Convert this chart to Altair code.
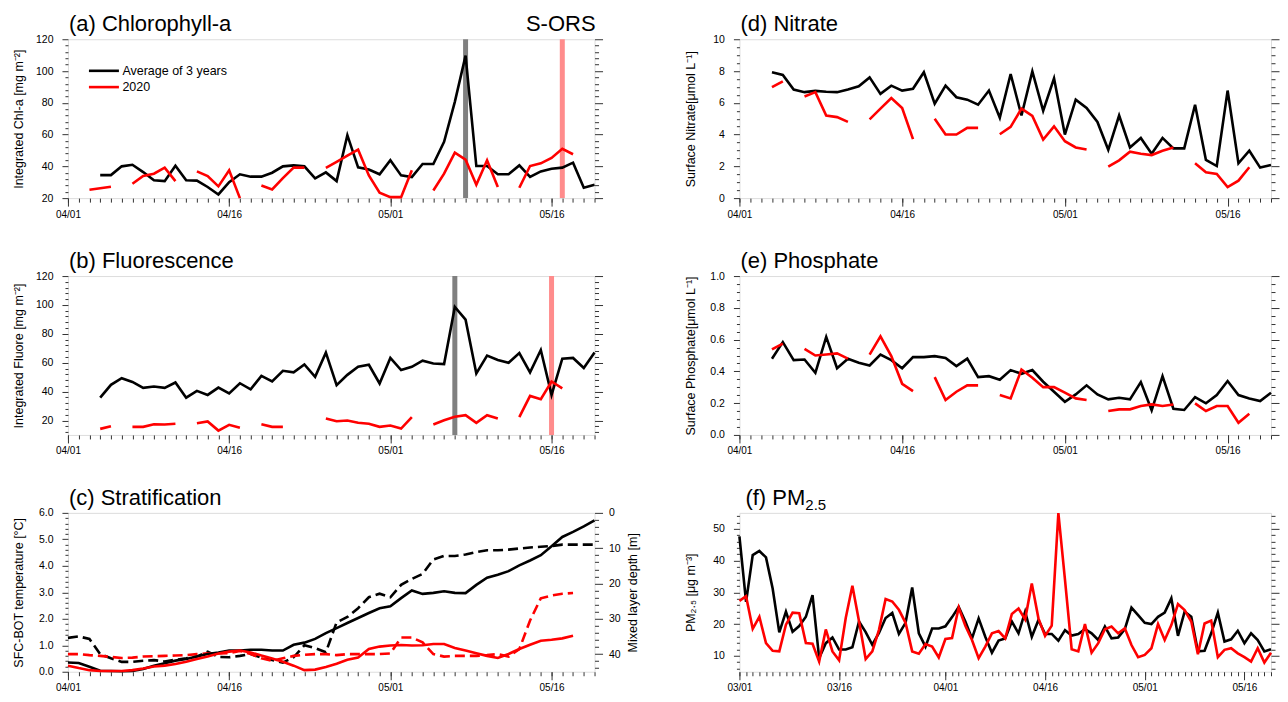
import altair as alt
import pandas as pd

FONT = "Liberation Sans"
YEAR = 2020

# ---------------- data ----------------
# (a) Integrated Chl-a [mg m-2]
chl_avg_start = "04-04"
chl_avg = [34.5, 34.5, 40, 41, 36.4, 31.2, 30.7, 40.4, 31.2, 31, 27, 22.3, 30, 35, 33.5, 33.5,
           36, 40, 40.6, 40, 32.4, 36.2, 30.7, 59.6, 39.4, 38, 35, 43.8, 34.3, 33.3, 41.5, 41.5,
           55.4, 80.6, 109.7, 40.2, 40.2, 35, 35, 40.6, 33.3, 36.8, 38.5, 39.2, 42.3, 26.5, 28.4]
chl_2020_start = "04-03"
chl_2020 = [25.3, 26.2, 27.2, None, 29, 33.9, 35.4, 39.2, 30.7, None, 36.8, 33.9, 27.4, 37.5, 20,
            None, 28, 25.5, 32.6, 39.2, 39.2, None, 39, 42.8, 46.7, 50.5, 34.3, 23.4, 20.6, 20.6,
            37.5, None, 24.8, 35.4, 48.6, 44.2, 28.4, 43.8, 27, None, 26.5, 40.2, 41.9, 45.3, 51, 47.6]
chl_events = ["05-08", "05-17"]

# (b) Integrated Fluore [mg m-2]
flu_avg_start = "04-04"
flu_avg = [35.8, 44.7, 49.3, 46.7, 42.6, 43.5, 42.6, 46.3, 35.8, 40.5, 37.7, 42.8, 38.8, 45.8,
           41.6, 50.9, 47, 54.4, 53.3, 58.8, 50.2, 67, 44.4, 51.6, 57.2, 58.6, 45.6, 63.3, 54.9,
           57.2, 61.4, 59.5, 59.1, 98.6, 89.8, 52.6, 64.9, 61.9, 60, 66.7, 53.3, 68.8, 37.7, 62.8,
           63.3, 56.3, 67]
flu_2020_start = "04-04"
flu_2020 = [14.2, 16, None, 15.6, 15.6, 17.4, 17.2, 17.7, None, 18.1, 19.3, 13, 17, 14.9, None,
            17.4, 15.6, 15.6, None, None, None, 21.4, 19.5, 20, 18.4, 17.7, 15.6, 16.5, 14.4, 22.3,
            None, 17.2, 20.2, 22.6, 23.7, 18.4, 23.7, 21.4, None, 22.3, 37, 34.7, 47, 42.3]
flu_events = ["05-07", "05-16"]

# (c) Stratification: SFC-BOT temperature [degC] and mixed layer depth [m]
strat_start = "04-01"
dt_avg = [0.35, 0.33, 0.19, 0.04, 0.03, 0.02, 0.03, 0.1, 0.23, 0.32, 0.42, 0.48, 0.58, 0.67, 0.73,
          0.8, 0.8, 0.83, 0.83, 0.8, 0.8, 1.02, 1.1, 1.24, 1.46, 1.65, 1.84, 2.03, 2.22, 2.4, 2.47,
          2.78, 3.07, 2.94, 2.98, 3.04, 2.98, 2.97, 3.28, 3.55, 3.66, 3.8, 4.02, 4.2, 4.4, 4.74,
          5.09, 5.28, 5.49, 5.72]
dt_2020 = [0.23, 0.14, 0.06, 0.03, 0.03, 0.03, 0.06, 0.12, 0.2, 0.23, 0.29, 0.38, 0.48, 0.58, 0.69,
           0.76, 0.8, 0.73, 0.61, 0.5, 0.38, 0.23, 0.06, 0.08, 0.18, 0.3, 0.45, 0.54, 0.86, 0.95,
           0.99, 1.01, 0.99, 1.0, 1.05, 1.05, 0.9, 0.8, 0.7, 0.6, 0.52, 0.67, 0.86, 1.02, 1.17,
           1.21, 1.26, 1.36]
mld_avg = [35.4, 35, 35.7, 40, 41.2, 42.2, 42.2, 41.9, 41.7, 42.1, 41.6, 41.2, 40.7, 39.3, 40.8,
           40.9, 40.5, 40, 41, 41.7, 42.4, 40.9, 37.5, 38.3, 39.5, 31, 29.5, 27, 23.9, 22.9, 23.9,
           20.4, 18.7, 17.3, 13.2, 12.2, 12.2, 11.8, 11.1, 10.6, 10.6, 10.4, 10.1, 9.8, 9.6, 9.4,
           9, 9, 9, 9]
mld_2020 = [40, 40, 40.3, 40.5, 40.8, 41.1, 41, 40.7, 40.6, 40.5, 40.4, 40.3, 40, 39.8, 39.8,
            39.7, 39.1, 40, 41.2, 41.9, 41.2, 40.5, 40.2, 40, 40, 40.3, 40, 40, 40, 40, 39.8,
            35.3, 35.3, 36.7, 40, 40.7, 40.5, 40.5, 40.5, 40.3, 40, 40.7, 38.6, 30.5, 24.2, 23.4,
            22.9, 22.7]

# (d) Surface nitrate [umol L-1]
no3_avg_start = "04-04"
no3_avg = [7.92, 7.75, 6.83, 6.67, 6.75, 6.7, 6.67, 6.83, 7.04, 7.6, 6.56, 7.08, 6.77, 6.88, 7.92,
           5.94, 7.08, 6.35, 6.2, 5.88, 6.77, 5.06, 7.81, 5.2, 7.98, 5.5, 7.54, 4.0, 6.2, 5.67,
           4.79, 3.04, 5.2, 3.19, 3.79, 2.79, 3.79, 3.13, 3.13, 5.88, 2.4, 2.02, 6.77, 2.19, 2.98,
           1.92, 2.08]
no3_2020_start = "04-04"
no3_2020 = [6.98, 7.35, None, 6.4, 6.67, 5.2, 5.1, 4.8, None, 4.96, 5.63, 6.3, 5.67, 3.71, None,
            5.0, 4.0, 4.0, 4.42, 4.42, None, 4.02, 4.48, 5.63, 5.17, 3.69, 4.52, 3.58, 3.19, 3.06,
            None, 1.98, 2.38, 2.92, 2.79, 2.71, 2.98, 3.19, None, 2.19, 1.63, 1.52, 0.69, 1.1, 1.94]

# (e) Surface phosphate [umol L-1]
po4_avg_start = "04-04"
po4_avg = [0.48, 0.584, 0.471, 0.475, 0.391, 0.617, 0.42, 0.48, 0.454, 0.437, 0.506, 0.471, 0.42,
           0.49, 0.49, 0.496, 0.485, 0.433, 0.48, 0.364, 0.37, 0.347, 0.408, 0.385, 0.408, 0.335,
           0.272, 0.209, 0.255, 0.312, 0.255, 0.224, 0.234, 0.224, 0.333, 0.155, 0.37, 0.165,
           0.157, 0.238, 0.199, 0.251, 0.339, 0.251, 0.23, 0.213, 0.266]
po4_2020_start = "04-04"
po4_2020 = [0.538, 0.575, None, 0.542, 0.5, 0.506, 0.513, 0.48, None, 0.506, 0.621, 0.496, 0.322,
            0.276, None, 0.364, 0.22, 0.272, 0.312, 0.312, None, 0.251, 0.23, 0.412, 0.36, 0.301,
            0.301, 0.266, 0.23, 0.22, None, 0.151, 0.161, 0.161, 0.182, 0.192, 0.182, 0.192, None,
            0.199, 0.151, 0.182, 0.182, 0.077, 0.134]

# (f) PM2.5 [ug m-3], daily from 03/01
pm_start = "03-01"
pm_avg = [47.6, 27, 41.7, 43, 41, 31.2, 17.4, 23.9, 17.6, 19.4, 22.3, 29.1, 9.3, 14, 15.8, 12, 12,
          12.7, 20.8, 17.5, 13.5, 17.2, 21.9, 23.5, 16.9, 20.4, 31.5, 17.1, 12.9, 18.6, 18.6, 19.3,
          22.2, 25.4, 20.8, 15.5, 21.8, 16, 11, 14.8, 15.5, 20.8, 17.1, 23.9, 16, 21.3, 16.9, 16.9,
          14.8, 18.1, 16.4, 16.9, 18.4, 17.1, 15, 19.2, 15.5, 15.8, 18.4, 25.2, 22.8, 20.4, 20,
          22.3, 23.6, 28.1, 16.3, 23.9, 22.3, 11.4, 11.6, 17.1, 23.6, 14.5, 15.2, 17.9, 14, 17.1,
          15, 11.4, 12.1]
pm_2020 = [27.3, 28.8, 18.5, 22.3, 14, 11.6, 11.4, 19.8, 23.6, 23.4, 14, 13.8, 8.2, 18.3, 11.4,
           8.6, 21.9, 32.1, 20.9, 9, 11.4, 18.2, 27.9, 27.1, 24.5, 20.4, 11.4, 10.7, 13.7, 12.9,
           9.5, 15.3, 15.6, 25.2, 19.5, 15, 9.3, 12.9, 17.1, 17.8, 15.5, 23.2, 24.9, 21.5, 32.8,
           21.8, 16.3, 19.5, 54.9, 33.8, 12.1, 11.4, 20, 11, 14, 18.4, 19.2, 17.1, 18.7, 13.4, 9.6,
           10.3, 12.4, 20, 15, 19.7, 26.3, 24.4, 20.8, 10.5, 20.2, 21.1, 9.6, 11.9, 12.4, 10.8,
           9.6, 8.2, 12.4, 7.9, 11]

legend_labels = ["Average of 3 years", "2020"]

# tick definitions
spring_domain = ["04-01", "05-20"]
spring_major = ["04-01", "04-16", "05-01", "05-16"]
pm_domain = ["03-01", "05-20"]
pm_major = ["03-01", "03-16", "04-01", "04-16", "05-01", "05-16"]

BLACK = "#000000"
RED = "#ff0000"
LW = 2.6
W_L, W_R, H = 527, 532, 159


# ---------------- helpers ----------------
def ts(md):
    return pd.Timestamp(f"{YEAR}-{md}")


def iso(t):
    return t.strftime("%Y-%m-%dT00:00:00Z")


def dt(md):
    m, d = (int(s) for s in md.split("-"))
    return alt.DateTime(year=YEAR, month=m, date=d, utc=True)


def daily(dom):
    days = pd.date_range(ts(dom[0]), ts(dom[1]), freq="D")
    return [dt(d.strftime("%m-%d")) for d in days]


def series_df(start, values):
    d0 = ts(start)
    rows, seg, gap = [], 0, True
    for i, v in enumerate(values):
        if v is None:
            gap = True
            continue
        if gap:
            seg += 1
            gap = False
        rows.append({"date": iso(d0 + pd.Timedelta(days=i)), "value": v, "seg": seg})
    return pd.DataFrame(rows)


def xs(dom):
    return alt.Scale(type="utc", domain=[dt(dom[0]), dt(dom[1])], nice=False)


def ys(dom, reverse=False):
    if reverse:
        return alt.Scale(domain=dom, nice=False, zero=False, reverse=True)
    return alt.Scale(domain=dom, nice=False, zero=False)


AX = dict(labelFont=FONT, titleFont=FONT, labelColor="#000", titleColor="#000",
          tickColor="#333", tickWidth=1, domain=False, grid=False, labelOverlap=False)


def frame_df(dom, ydom):
    return pd.DataFrame({"date": [iso(ts(dom[0])), iso(ts(dom[1]))], "value": list(ydom)})


def axis_layer(dom, ydom, xaxis, yaxis, reverse=False):
    return alt.Chart(frame_df(dom, ydom)).mark_point(size=0, opacity=0).encode(
        x=alt.X("date:T", scale=xs(dom), axis=xaxis),
        y=alt.Y("value:Q", scale=ys(ydom, reverse), axis=yaxis),
    )


def frame_layers(dom, major_x, ydom, ymajor, yminor, yfmt, ytitle, right_ticks=True):
    xmaj = alt.Axis(orient="bottom", values=[dt(v) for v in major_x], format="%m/%d",
                    labelFontSize=10, tickSize=8, labelPadding=3, labelFlush=False,
                    title=None, **AX)
    xmin = alt.Axis(orient="bottom", values=daily(dom), labels=False, tickSize=4,
                    title=None, **AX)
    ylmaj = alt.Axis(orient="left", values=ymajor, format=yfmt, labelFontSize=10.5,
                     tickSize=6, labelPadding=9, title=ytitle, titleFontSize=12.5,
                     titleFontWeight="normal", titlePadding=8, minExtent=34, maxExtent=34,
                     **AX)
    ylmin = alt.Axis(orient="left", values=yminor, labels=False, tickSize=3, title=None, **AX)
    layers = [axis_layer(dom, ydom, xmaj, ylmaj), axis_layer(dom, ydom, xmin, ylmin)]
    if right_ticks:
        yrmaj = alt.Axis(orient="right", values=ymajor, labels=False, tickSize=8, title=None, **AX)
        yrmin = alt.Axis(orient="right", values=yminor, labels=False, tickSize=4, title=None, **AX)
        layers += [axis_layer(dom, ydom, None, yrmaj), axis_layer(dom, ydom, None, yrmin)]
    return layers


def line_layer(start, values, dom, ydom, color, dash=None, reverse=False):
    kw = dict(color=color, strokeWidth=LW, strokeJoin="miter", strokeCap="butt")
    if dash:
        kw["strokeDash"] = dash
    return alt.Chart(series_df(start, values)).mark_line(**kw).encode(
        x=alt.X("date:T", scale=xs(dom), axis=None),
        y=alt.Y("value:Q", scale=ys(ydom, reverse), axis=None),
        detail="seg:N",
    )


def band_layer(md, dom, color):
    return alt.Chart(pd.DataFrame({"date": [iso(ts(md))]})).mark_rule(
        color=color, strokeWidth=5).encode(x=alt.X("date:T", scale=xs(dom), axis=None))


def text_layer(txt, x, y, size, align="left", baseline="alphabetic"):
    return alt.Chart(pd.DataFrame({"t": [txt]})).mark_text(
        font=FONT, fontSize=size, align=align, baseline=baseline, color="#000"
    ).encode(text="t:N", x=alt.value(x), y=alt.value(y))


def legend_layers():
    out = []
    for lab, col, yy in zip(legend_labels, [BLACK, RED], [31.6, 47.9]):
        out.append(alt.Chart(pd.DataFrame({"t": [lab]})).mark_rule(
            color=col, strokeWidth=LW).encode(x=alt.value(21), x2=alt.value(51), y=alt.value(yy)))
        out.append(text_layer(lab, 54.5, yy, 12.5, baseline="middle"))
    return out


def rng(a, b, step):
    out, v = [], a
    while v <= b + 1e-9:
        out.append(round(v, 4))
        v += step
    return out


def minors(a, b, step, majors):
    return [v for v in rng(a, b, step) if all(abs(v - m) > 1e-6 for m in majors)]


def finish(layers, w):
    return alt.layer(*layers).resolve_scale(x="independent", y="independent").properties(
        width=w, height=H)


# ---------------- panels ----------------
dom = spring_domain

# (a)
ya = [20, 120]
maj = rng(20, 120, 20)
pa = finish(
    frame_layers(dom, spring_major, ya, maj, minors(20, 120, 4, maj), "d",
                 "Integrated Chl-a [mg m⁻²]")
    + [band_layer(chl_events[0], dom, "#808080"), band_layer(chl_events[1], dom, "#ff8c8c"),
       line_layer(chl_avg_start, chl_avg, dom, ya, BLACK),
       line_layer(chl_2020_start, chl_2020, dom, ya, RED),
       text_layer("(a) Chlorophyll-a", 1, -8, 22),
       text_layer("S-ORS", W_L + 1, -8, 22, align="right")]
    + legend_layers(), W_L)

# (b)
yb = [10, 120]
maj = rng(20, 120, 20)
pb = finish(
    frame_layers(dom, spring_major, yb, maj, minors(12, 120, 4, maj), "d",
                 "Integrated Fluore [mg m⁻²]")
    + [band_layer(flu_events[0], dom, "#808080"), band_layer(flu_events[1], dom, "#ff8c8c"),
       line_layer(flu_avg_start, flu_avg, dom, yb, BLACK),
       line_layer(flu_2020_start, flu_2020, dom, yb, RED),
       text_layer("(b) Fluorescence", 1, -8, 22)], W_L)

# (c)
yc = [0, 6]
ymld = [0, 45]
maj = rng(0, 6, 1)
mld_maj = rng(0, 40, 10)
mld_axis = alt.Axis(orient="right", values=mld_maj, format="d", labelFontSize=10.5, tickSize=8,
                    labelPadding=6, title="Mixed layer depth [m]", titleFontSize=12.5,
                    titleFontWeight="normal", titleAngle=270, titleBaseline="top",
                    titlePadding=6, **AX)
mld_minor = alt.Axis(orient="right", values=minors(0, 44, 2, mld_maj), labels=False, tickSize=4,
                     title=None, **AX)
pc = finish(
    frame_layers(dom, spring_major, yc, maj, minors(0, 6, 0.2, maj), ".1f",
                 "SFC-BOT temperature [°C]", right_ticks=False)
    + [axis_layer(dom, ymld, None, mld_axis, reverse=True),
       axis_layer(dom, ymld, None, mld_minor, reverse=True),
       line_layer(strat_start, mld_avg, dom, ymld, BLACK, dash=[10, 5], reverse=True),
       line_layer(strat_start, mld_2020, dom, ymld, RED, dash=[10, 5], reverse=True),
       line_layer(strat_start, dt_avg, dom, yc, BLACK),
       line_layer(strat_start, dt_2020, dom, yc, RED),
       text_layer("(c) Stratification", 1, -8, 22)], W_L)

# (d)
yd = [0, 10]
maj = rng(0, 10, 2)
pd_ = finish(
    frame_layers(dom, spring_major, yd, maj, minors(0, 10, 0.5, maj), "d",
                 "Surface Nitrate[μmol L⁻¹]")
    + [line_layer(no3_avg_start, no3_avg, dom, yd, BLACK),
       line_layer(no3_2020_start, no3_2020, dom, yd, RED),
       text_layer("(d) Nitrate", 1, -8, 22)], W_R)

# (e)
ye = [0, 1]
maj = rng(0, 1, 0.2)
pe = finish(
    frame_layers(dom, spring_major, ye, maj, minors(0, 1, 0.05, maj), ".1f",
                 "Surface Phosphate[μmol L⁻¹]")
    + [line_layer(po4_avg_start, po4_avg, dom, ye, BLACK),
       line_layer(po4_2020_start, po4_2020, dom, ye, RED),
       text_layer("(e) Phosphate", 1, -8, 22)], W_R)

# (f)
yf = [5, 55]
maj = rng(10, 50, 10)
pf = finish(
    frame_layers(pm_domain, pm_major, yf, maj, minors(6, 54, 2, maj), "d",
                 "PM₂.₅ [μg m⁻³]")
    + [line_layer(pm_start, pm_avg, pm_domain, yf, BLACK),
       line_layer(pm_start, pm_2020, pm_domain, yf, RED),
       text_layer("(f) PM", 6, -8, 22),
       text_layer("2.5", 66, -3, 15)], W_R)

chart = alt.concat(pa, pd_, pb, pe, pc, pf, columns=2,
                   spacing={"row": 29, "column": 44}).properties(
    padding={"left": 4, "top": 4, "right": 0, "bottom": 0}
).configure_view(stroke="#444", strokeWidth=1).configure(background="white")

chart.save("out.html", embed_options={"renderer": "svg", "actions": False})
